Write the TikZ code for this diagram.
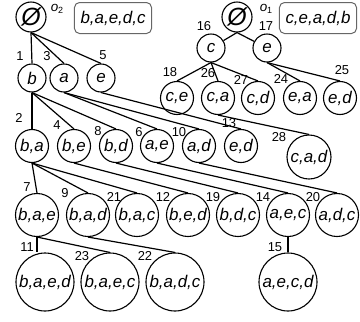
\documentclass[tikz,border=0pt]{standalone}
\usepackage{fontspec}
\setmainfont{Liberation Sans}
\begin{document}
\begin{tikzpicture}[x=1bp,y=-1bp,line width=1.2bp,
  every node/.style={inner sep=0pt},
  nd/.style={draw,circle,line width=1.1bp,font=\fontsize{17}{17}\selectfont\itshape},
  sroot/.style={nd,minimum size=30bp,font=\fontsize{25}{25}\selectfont\itshape},
  sa/.style={nd,minimum size=28bp},
  sb/.style={nd,minimum size=33bp},
  sc/.style={nd,minimum size=43bp},
  sd/.style={nd,minimum size=58bp},
  lbl/.style={font=\fontsize{13}{13}\selectfont},
  olbl/.style={font=\fontsize{13.5}{13.5}\selectfont},
  seqbox/.style={draw=black!60,line width=1bp,rounded corners=5bp,minimum width=77bp,minimum height=31bp,fill=white,font=\fontsize{17}{17}\selectfont\itshape}]
\useasboundingbox (0,0) rectangle (360,322);
% roots and boxes
\node[sroot] (o2) at (31,17) {Ø};
\node[olbl] (o2l) at (57,9) {\textit{o}\raisebox{-0.35ex}{\fontsize{9}{9}\selectfont 2}};
\node[seqbox] (box2) at (113,18) {b,a,e,d,c};
\node[sroot] (o1) at (237,17) {Ø};
\node[olbl] (o1l) at (266,9) {\textit{o}\raisebox{-0.35ex}{\fontsize{9}{9}\selectfont 1}};
\node[seqbox] (box1) at (318,18) {c,e,a,d,b};
% o2 level 1
\node[sa] (b) at (32,78) {b};
\node[sa] (a) at (64,78) {a};
\node[sa] (e) at (101,78) {e};
% o2 level 2
\node[sb] (ba) at (32,146) {b,a};
\node[sb] (be) at (74,146) {b,e};
\node[sb] (bd) at (116,146) {b,d};
\node[sb] (ae) at (157,146) {a,e};
\node[sb] (ad) at (199,146) {a,d};
\node[sb] (ed) at (241,146) {e,d};
% o2 level 3
\node[sc] (bae) at (37,215) {b,a,e};
\node[sc] (bad) at (88,215) {b,a,d};
\node[sc] (bac) at (137,215) {b,a,c};
\node[sc] (bed) at (188,215) {b,e,d};
\node[sc] (bdc) at (238,215) {b,d,c};
\node[sc] (aec) at (288,215) {a,e,c};
\node[sc] (adc) at (337,215) {a,d,c};
% o2 level 4
\node[sd] (baed) at (45,282) {b,a,e,d};
\node[sd] (baec) at (110,282) {b,a,e,c};
\node[sd] (badc) at (175,282) {b,a,d,c};
\node[sd] (aecd) at (288,282) {a,e,c,d};
% o1 tree
\node[sa] (c) at (211,48) {c};
\node[sa] (e1) at (267,48) {e};
\node[sb] (ce) at (177,98) {c,e};
\node[sb] (ca) at (218,98) {c,a};
\node[sb] (cd) at (258,98) {c,d};
\node[sb] (ea) at (300,98) {e,a};
\node[sb] (ed1) at (340,98) {e,d};
\node[nd,minimum size=44bp] (cad) at (309,157) {c,a,d};
% edges o2
\draw (o2.south) -- (b.north);
\draw (o2.south) -- (a.north);
\draw (o2.south) -- (e.north);
\draw (b.south) -- (ba.north);
\draw (b.south) -- (be.north);
\draw (b.south) -- (bd.north);
\draw (a.south) -- (ae.north);
\draw (a.south) -- (ad.north);
\draw (e.south) -- (ed.north);
\draw (ba.south) -- (bae.north);
\draw (ba.south) -- (bad.north);
\draw (ba.south) -- (bac.north);
\draw (be.south) -- (bed.north);
\draw (bd.south) -- (bdc.north);
\draw (ae.south) -- (aec.north);
\draw (ad.south) -- (adc.north);
\draw (bae.south) -- (baed.north -| bae.south);
\draw (bae.south) -- (baec.north);
\draw (bad.south) -- (badc.north);
\draw (aec.south) -- (aecd.north);
% edges o1
\draw (o1.south) -- (c);
\draw (o1.south) -- (e1);
\draw (c.south) -- (ce.north);
\draw (c.south) -- (ca.north);
\draw (c.south) -- (cd.north);
\draw (e1.south) -- (ea.north);
\draw (e1.south) -- (ed1.north);
\draw (ca.south) -- (cad.north);
% edge labels
\node[lbl] (l1) at (20,56) {1};
\node[lbl] (l3) at (47,56) {3};
\node[lbl] (l5) at (103,55) {5};
\node[lbl] (l2) at (19,118) {2};
\node[lbl] (l4) at (57,125) {4};
\node[lbl] (l8) at (98,131) {8};
\node[lbl] (l6) at (139,132) {6};
\node[lbl] (l10) at (179,132) {10};
\node[lbl] (l13) at (229,123) {13};
\node[lbl] (l7) at (27,187) {7};
\node[lbl] (l9) at (65,193) {9};
\node[lbl] (l21) at (114,197) {21};
\node[lbl] (l12) at (163,197) {12};
\node[lbl] (l19) at (213,197) {19};
\node[lbl] (l14) at (263,197) {14};
\node[lbl] (l20) at (313,197) {20};
\node[lbl] (l11) at (27,247) {11};
\node[lbl] (l23) at (82,256) {23};
\node[lbl] (l22) at (145,256) {22};
\node[lbl] (l15) at (275,247) {15};
\node[lbl] (l16) at (204,26) {16};
\node[lbl] (l17) at (266,26) {17};
\node[lbl] (l18) at (170,72) {18};
\node[lbl] (l26) at (208,73) {26};
\node[lbl] (l27) at (241,80) {27};
\node[lbl] (l24) at (281,79) {24};
\node[lbl] (l25) at (342,70) {25};
\node[lbl] (l28) at (279,137) {28};
\end{tikzpicture}
\end{document}
